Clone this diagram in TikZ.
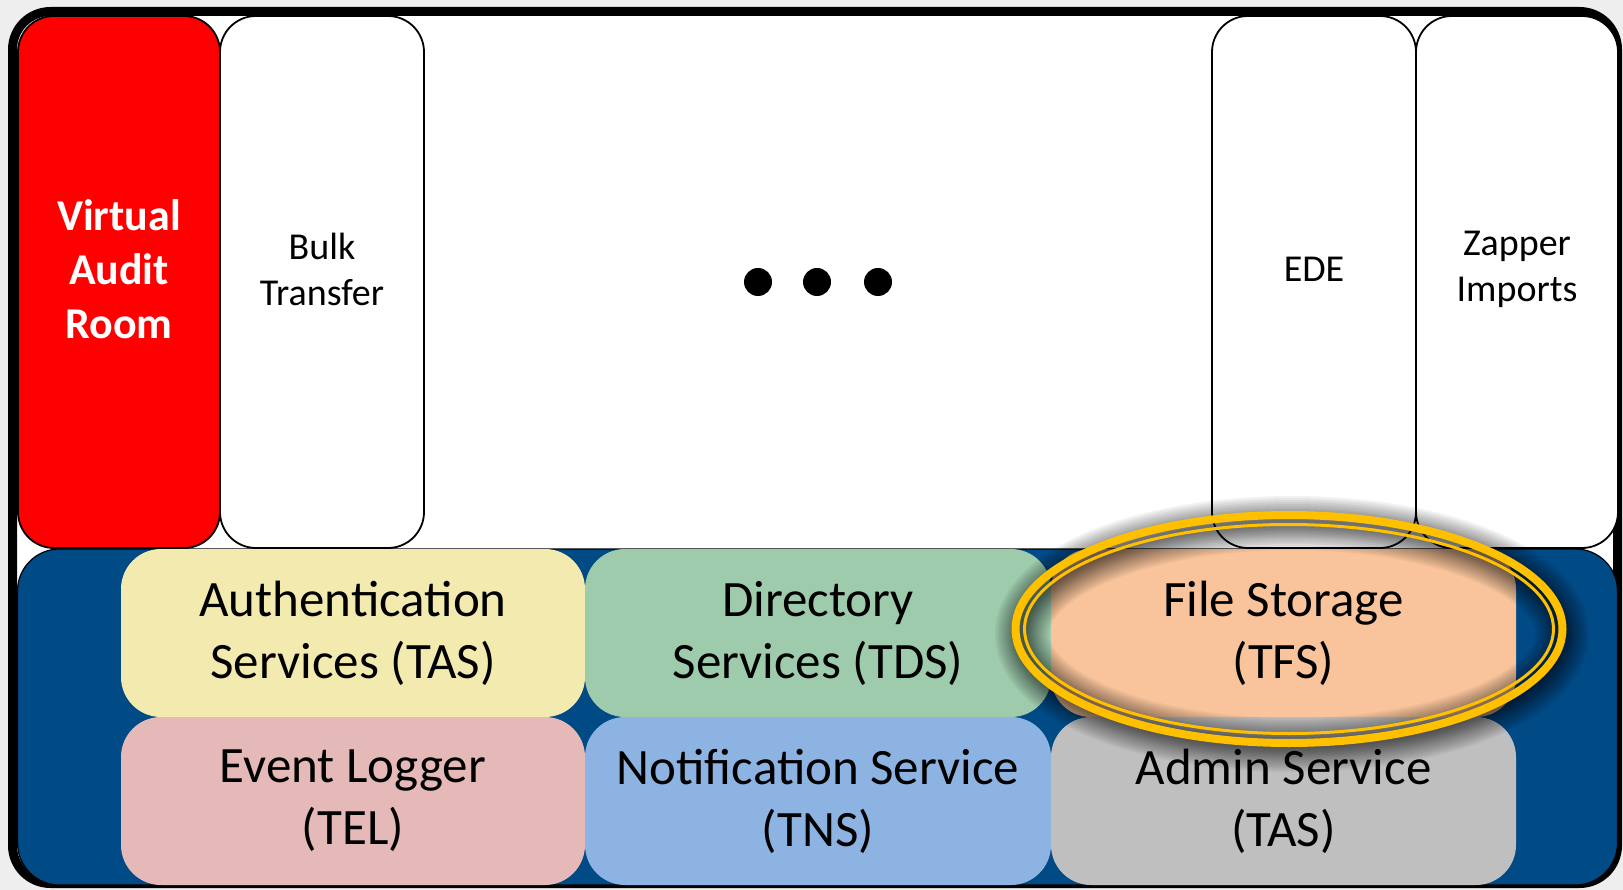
\documentclass[tikz,border=0pt]{standalone}
\usepackage{fontspec}
\setmainfont{Carlito}
\definecolor{vblue}{RGB}{0,74,134}
\definecolor{cauth}{RGB}{242,234,175}
\definecolor{cdir}{RGB}{159,203,173}
\definecolor{cfile}{RGB}{249,196,155}
\definecolor{clog}{RGB}{229,185,183}
\definecolor{cnot}{RGB}{141,179,226}
\definecolor{cadm}{RGB}{191,191,191}
\definecolor{cring}{RGB}{255,192,0}
\definecolor{bggray}{RGB}{238,238,238}
\begin{document}
\begin{tikzpicture}[x=1pt,y=-1pt,
  topbox/.style={draw=black, line width=1.8pt, fill=white, rounded corners=36pt,
    minimum height=532pt, inner sep=0pt, outer sep=0pt, anchor=north west},
  svcbox/.style={rounded corners=40pt, minimum width=465pt, minimum height=168pt,
    inner sep=0pt, outer sep=0pt, anchor=north west, align=center,
    font=\fontsize{51}{62}\selectfont},
  smalltxt/.style={align=center, font=\fontsize{38}{46}\selectfont, inner sep=0pt},
  boldtxt/.style={align=center, font=\fontsize{44}{54}\selectfont\bfseries, text=white, inner sep=0pt},
  dotnode/.style={circle, fill=black, minimum size=28pt, inner sep=0pt}]
\useasboundingbox (0,0) rectangle (1623,890);
\fill[bggray] (0,0) rectangle (1623,890);
% outer frame
\draw[line width=9pt, fill=white, rounded corners=38pt] (12.5,11.5) rectangle (1617.5,883.5);
% top boxes
\node[topbox, minimum width=202pt, fill=red] (var) at (18,16) {};
\node[topbox, minimum width=204pt] (bulk) at (220,16) {};
\node[topbox, minimum width=204pt] (ede) at (1212,16) {};
\node[topbox, minimum width=202pt] (zap) at (1416,16) {};
\node[boldtxt] (tvar) at ([yshift=13pt]var.center) {Virtual\\Audit\\Room};
\node[smalltxt] (tbulk) at ([yshift=13pt]bulk.center) {Bulk\\Transfer};
\node[smalltxt] (tede) at ([yshift=13pt]ede.center) {EDE};
\node[smalltxt] (tzap) at ([yshift=13pt]zap.center) {Zapper\\Imports};
% dots
\node[dotnode] (d1) at (758,282) {};
\node[dotnode] (d2) at (817,282) {};
\node[dotnode] (d3) at (878,282) {};
% blue panel
\node[draw=black, line width=1.2pt, fill=vblue, rounded corners=42pt, minimum width=1600pt,
  minimum height=336pt, inner sep=0pt, outer sep=0pt, anchor=north west] (panel) at (17.5,549) {};
% services
\node[svcbox, fill=cauth, minimum width=464pt] (auth) at (121,549) {Authentication\\Services (TAS)};
\node[svcbox, fill=cdir, minimum width=466pt] (dir) at (585,549) {Directory\\Services (TDS)};
\node[svcbox, fill=cfile] (file) at (1051,549) {File Storage\\(TFS)};
\node[svcbox, fill=clog, minimum width=464pt] (log) at (121,717) {Event Logger\\(TEL)};
\node[svcbox, fill=cnot, minimum width=466pt] (notif) at (585,717) {Notification Service\\(TNS)};
\node[svcbox, fill=cadm] (adm) at (1051,717) {Admin Service\\(TAS)};
% ring shadow (soft)
\coordinate (ringc) at (1289,629);
\foreach \w in {54,50,46,42,38,34,30,27,24,21,18,15,12,9,6}
  \draw[black, opacity=0.05, line width=\w pt] ([shift={(3,5)}]ringc) ellipse [x radius=270, y radius=111];
% ring
\draw[cring, line width=8pt] (ringc) ellipse [x radius=273.5, y radius=114];
\draw[cring, line width=3pt] (ringc) ellipse [x radius=264.5, y radius=104.5];
\end{tikzpicture}
\end{document}
